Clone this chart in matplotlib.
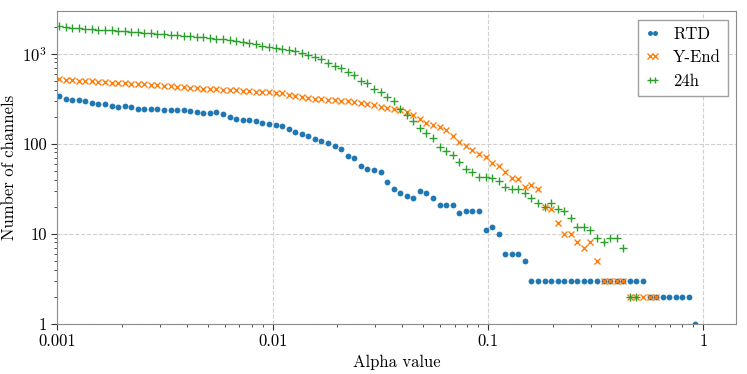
import numpy as np
import matplotlib
matplotlib.use("Agg")
import matplotlib.pyplot as plt

plt.rcParams['font.family'] = 'serif'
plt.rcParams['font.serif'] = ['cmr10']
plt.rcParams['mathtext.fontset'] = 'cm'
plt.rcParams['axes.formatter.use_mathtext'] = True

# alpha grid (log spaced, 98 steps)
alphas = np.logspace(-2.992, -0.036, 98)

nan = np.nan
rtd = [336, 316, 309, 306, 295, 286, 274, 275, 263, 257,
       260, 253, 244, 240, 240, 240, 234, 234, 237, 237,
       228, 223, 220, 220, 223, 216, 198, 190, 184, 182,
       177, 171, 166, 162, 156, 147, 136, 127, 122, 113,
       107, 101, 94, 87, 73, 69, 57, 52, 51, 49,
       38, 31, 28, 26, 25, 30, 28, 25, 21, 21,
       21, 17, 18, 18, 18, 11, 12, 10, 6, 6,
       6, 5, 3, 3, 3, 3, 3, 3, 3, 3,
       3, 3, 3, 3, 3, 3, 3, 3, 3, 3,
       2, 2, 2, 2, 2, 2, 2, 1]

y_end = [519, 510, 506, 501, 501, 493, 489, 480, 476, 472,
         469, 464, 457, 457, 449, 445, 437, 437, 430, 423,
         419, 416, 408, 408, 402, 398, 395, 392, 385, 382,
         379, 375, 372, 369, 363, 351, 339, 327, 319, 316,
         311, 308, 306, 301, 296, 288, 286, 276, 267, 253,
         247, 241, 236, 225, 206, 190, 171, 161, 155, 142,
         122, 105, 94, 85, 77, 72, 61, 56, 48, 42,
         41, 33, 35, 31, 20, 19, 13, 10, 10, 8,
         7, 8, 5, 3, 3, 3, 3, 2, 2, 2,
         2, 2, nan, nan, nan, nan, nan, nan]

h24 = [2010, 1990, 1945, 1913, 1880, 1866, 1834, 1834, 1818, 1802,
       1773, 1743, 1727, 1713, 1684, 1655, 1641, 1627, 1599, 1585,
       1558, 1545, 1519, 1493, 1468, 1443, 1419, 1395, 1355, 1310,
       1276, 1228, 1188, 1170, 1140, 1108, 1070, 1025, 975, 918,
       866, 782, 724, 685, 623, 575, 501, 472, 408, 374,
       327, 295, 241, 211, 181, 148, 133, 117, 92, 84,
       74, 63, 52, 48, 43, 43, 42, 39, 33, 31,
       31, 28, 25, 22, 20, 22, 19, 18, 15, 12,
       12, 11, 9, 8, 9, 9, 7, 2, 2, nan,
       nan, nan, nan, nan, nan, nan, nan, nan]

fig = plt.figure(figsize=(7.47, 3.74), dpi=100)
ax = fig.add_axes([0.0767, 0.1345, 0.9086, 0.8353])

ax.plot(alphas, rtd, 'o', color='tab:blue', ms=4.2, mew=0, label='RTD')
ax.plot(alphas, y_end, 'x', color='tab:orange', ms=4.6, mew=1, label='Y-End')
ax.plot(alphas, h24, '+', color='tab:green', ms=5.4, mew=1, label='24h')

ax.set_xscale('log')
ax.set_yscale('log')
ax.set_xlim(0.001, 1.42)
ax.set_ylim(1, 2960)

ax.set_xticks([0.001, 0.01, 0.1, 1])
ax.set_xticklabels(['0.001', '0.01', '0.1', '1'])
ax.set_yticks([1, 10, 100, 1000])
ax.set_yticklabels(['1', '10', '100', r'$10^3$'])

ax.grid(True, which='major', ls='--', color='#d0d0d0', lw=0.8)
ax.set_axisbelow(True)
for s in ax.spines.values():
    s.set_color('#8c8c8c')
ax.tick_params(which='major', length=4, width=0.8, labelsize=12, color='#333333')
ax.tick_params(which='minor', length=2.2, width=0.6, color='#333333')

ax.set_xlabel('Alpha value', fontsize=12)
ax.set_ylabel('Number of channels', fontsize=12)

leg = ax.legend(loc='upper right', numpoints=2, fontsize=12, fancybox=False,
                framealpha=1, edgecolor='#a0a0a0', handlelength=0.9,
                markerscale=0.85)

fig.savefig('out.png', dpi=100)
